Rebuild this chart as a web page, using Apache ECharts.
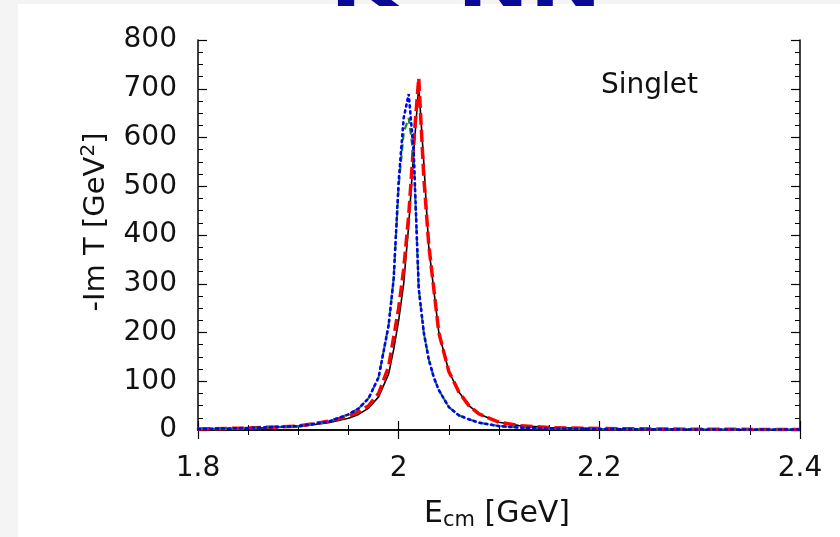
<!DOCTYPE html>
<html>
<head>
<meta charset="utf-8">
<script src="https://cdn.jsdelivr.net/npm/echarts@6/dist/echarts.min.js"></script>
<style>
html,body{margin:0;padding:0;background:#f4f4f4;}
#c{width:840px;height:537px;}
</style>
</head>
<body>
<div id="c"></div>
<script>
// Energies (GeV)
const energies = [1.80, 1.85, 1.90, 1.93, 1.95, 1.96, 1.97, 1.98, 1.99, 1.995, 2.00, 2.005, 2.01, 2.015, 2.02, 2.025, 2.03, 2.035, 2.04, 2.05, 2.06, 2.07, 2.08, 2.10, 2.12, 2.15, 2.20, 2.30, 2.40];
// -Im T values (GeV^2)
const blackSolid = [2, 3, 7, 15, 24, 32, 45, 68, 115, 165, 225, 300, 420, 570, 705, 550, 375, 288, 200, 120, 78, 50, 33, 16, 9, 5, 3, 1.5, 1];
const redDashed  = [2, 4, 8, 18, 28, 37, 50, 75, 130, 190, 250, 330, 440, 590, 722, 520, 380, 290, 200, 120, 78, 50, 33, 16, 9, 5, 3, 1.5, 1];
const greenDashed= [2, 4, 8, 17, 32, 44, 65, 108, 215, 310, 500, 610, 640, 560, 290, 200, 145, 108, 82, 47, 30, 22, 15, 8, 5, 3, 2, 1, 1];
const blueDotted = [2, 4, 8, 17, 32, 44, 65, 108, 215, 310, 510, 640, 689, 570, 290, 200, 145, 108, 82, 47, 30, 22, 15, 8, 5, 3, 2, 1, 1];

const xTicks = {min: 1.8, max: 2.4, interval: 0.2};
const yTicks = {min: 0, max: 800, interval: 100};

function pairs(vals){ return energies.map((e,i)=>[e, vals[i]]); }

const chart = echarts.init(document.getElementById('c'), null, {renderer:'canvas'});
const FONT = 'DejaVu Sans';
const axisLine = {show:true, lineStyle:{color:'#000', width:1.5}};
const tick = {show:true, inside:true, length:9, lineStyle:{color:'#000', width:1.2}};
const minor = {show:true, splitNumber:4, length:5, lineStyle:{color:'#000', width:1}};

chart.setOption({
  backgroundColor:'transparent',
  animation:false,
  graphic:[
    {type:'rect', z:-10, shape:{x:18,y:4,width:822,height:533}, style:{fill:'#ffffff'}},
    {type:'text', z:10, x:330, y:21, scaleX:1.35, style:{text:'K\u0304  NN', fill:'#0a0a96', font:'bold 64px "DejaVu Sans"', verticalAlign:'bottom', textVerticalAlign:'bottom'}},
    {type:'text', z:10, left:601, top:72, style:{text:'Singlet', fill:'#111', font:'28px "DejaVu Sans"'}},
    {type:'text', z:10, x:497, y:514, style:{
      text:'{a|E}{s|cm}{a| [GeV]}', align:'center', verticalAlign:'middle', textAlign:'center', textVerticalAlign:'middle',
      rich:{a:{fontFamily:FONT, fontSize:30, fill:'#111', color:'#111'},
            s:{fontFamily:FONT, fontSize:21, fill:'#111', color:'#111', padding:[14,0,0,0]}}}},
    {type:'text', z:10, x:96, y:222, rotation:Math.PI/2, style:{
      text:'{a|-Im T [GeV}{p|2}{a|]}', align:'center', verticalAlign:'middle', textAlign:'center', textVerticalAlign:'middle',
      rich:{a:{fontFamily:FONT, fontSize:29, fill:'#111', color:'#111'},
            p:{fontFamily:FONT, fontSize:20, fill:'#111', color:'#111', padding:[0,0,14,0]}}}}
  ],
  grid:{left:198, right:40, top:40, bottom:107, containLabel:false},
  xAxis:[
    {type:'value', min:xTicks.min, max:xTicks.max, interval:xTicks.interval,
     axisLine:axisLine, axisTick:tick, minorTick:minor, splitLine:{show:false},
     axisLabel:{color:'#111', fontFamily:FONT, fontSize:28, margin:25}},
    {type:'value', position:'top', min:xTicks.min, max:xTicks.max, interval:xTicks.interval,
     axisLine:axisLine, axisTick:tick, minorTick:minor, splitLine:{show:false}, axisLabel:{show:false}}
  ],
  yAxis:[
    {type:'value', min:yTicks.min, max:yTicks.max, interval:yTicks.interval,
     axisLine:axisLine, axisTick:tick, minorTick:minor, splitLine:{show:false},
     axisLabel:{color:'#111', fontFamily:FONT, fontSize:28, margin:21}},
    {type:'value', position:'right', min:yTicks.min, max:yTicks.max, interval:yTicks.interval,
     axisLine:axisLine, axisTick:tick, minorTick:minor, splitLine:{show:false}, axisLabel:{show:false}}
  ],
  series:[
    {type:'line', data:pairs(blackSolid), showSymbol:false, z:2,
     lineStyle:{color:'#000', width:1.6, type:'solid'}},
    {type:'line', data:pairs(redDashed), showSymbol:false, z:3,
     lineStyle:{color:'#ff0000', width:3.5, type:[12,5]}},
    {type:'line', data:pairs(greenDashed), showSymbol:false, z:4,
     lineStyle:{color:'#1a8a1a', width:2.2, type:[7,4]}},
    {type:'line', data:pairs(blueDotted), showSymbol:false, z:5,
     lineStyle:{color:'#0000ff', width:2.6, type:[2,4], cap:'round'}}
  ]
});
</script>
</body>
</html>
